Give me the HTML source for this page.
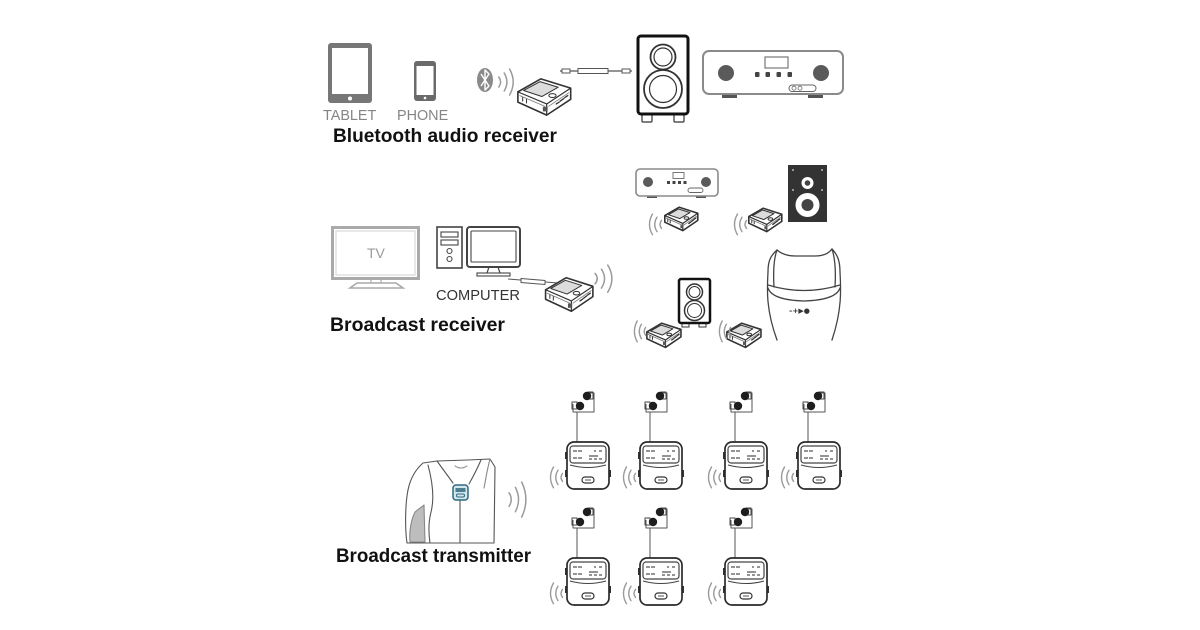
<!DOCTYPE html>
<html><head><meta charset="utf-8">
<style>
html,body{margin:0;padding:0;background:#fff;}
svg{display:block;}
</style></head>
<body>
<svg width="1200" height="630" viewBox="0 0 1200 630" xmlns="http://www.w3.org/2000/svg">
<defs>
  <g id="waveR" fill="none" stroke="#9a9a9a" stroke-width="1.5" stroke-linecap="round">
    <path d="M2,8 Q6,13 2,18" vector-effect="non-scaling-stroke"/>
    <path d="M8,4 Q14,13 8,22" vector-effect="non-scaling-stroke"/>
    <path d="M14,0 Q22,13 14,26" vector-effect="non-scaling-stroke"/>
  </g>
  <g id="waveL" fill="none" stroke="#9a9a9a" stroke-width="1.4" stroke-linecap="round">
    <path d="M18,8 Q14,13 18,18" vector-effect="non-scaling-stroke"/>
    <path d="M12,4 Q6,13 12,22" vector-effect="non-scaling-stroke"/>
    <path d="M6,0 Q-2,13 6,26" vector-effect="non-scaling-stroke"/>
  </g>
  <g id="recv" stroke="#333" stroke-linejoin="round" stroke-linecap="round">
    <path d="M3,16 L27,2 L58,12 L58,24 L33,41 L3,27 Z" fill="#fff" stroke-width="1.6" vector-effect="non-scaling-stroke"/>
    <path d="M3,16 L33,29 L58,12 M33,29 L33,41" fill="none" stroke-width="1.2" vector-effect="non-scaling-stroke"/>
    <path d="M5,20 L31,31.5 M35,31.5 L56,17" fill="none" stroke="#777" stroke-width="0.8" vector-effect="non-scaling-stroke"/>
    <path d="M9,14.5 L26,5 L45,11 L28,21 Z" fill="#dcdcdc" stroke-width="1" vector-effect="non-scaling-stroke"/>
    <ellipse cx="39" cy="20" rx="3.8" ry="2.1" fill="#fff" stroke-width="1" vector-effect="non-scaling-stroke"/>
    <rect x="29" y="32" width="5" height="5" fill="#555" stroke="none"/>
    <path d="M47,26 L51,23 M43,29 L46,27 M52,22 L55,20" fill="none" stroke-width="1.3" vector-effect="non-scaling-stroke"/>
    <path d="M8,22 L8,26 M12,24 L12,28" fill="none" stroke-width="1" vector-effect="non-scaling-stroke"/>
  </g>
  <g id="bud" stroke-linejoin="round">
    <path d="M10,0 L10,-30 L27,-30 L27,-49 L21,-49 M10,-30 L6,-30 L6,-38" stroke="#555" fill="none" stroke-width="1"/>
    <rect x="5" y="-40" width="5" height="7" fill="none" stroke="#444" stroke-width="1"/>
    <rect x="21" y="-50" width="5" height="7" fill="none" stroke="#444" stroke-width="1"/>
    <circle cx="13" cy="-36" r="4.2" fill="#1e1e1e"/>
    <circle cx="20" cy="-46" r="4.2" fill="#1e1e1e"/>
    <rect x="-2" y="10" width="3" height="7" fill="#333"/>
    <rect x="-2" y="28" width="3" height="7" fill="#333"/>
    <rect x="41" y="28" width="3" height="7" fill="#333"/>
    <rect x="0" y="0" width="42" height="47" rx="7" fill="#fff" stroke="#2a2a2a" stroke-width="1.7"/>
    <rect x="3" y="4" width="36" height="17" rx="3" fill="#fff" stroke="#444" stroke-width="1.2"/>
    <path d="M6,9 h4 M11,9 h4 M27,9 h2 M32,9 h3 M6,16 h4 M11,16 h4 M22,14 h9 M22,17 h3 M27,17 h3 M32,17 h3" stroke="#555" stroke-width="1.2"/>
    <path d="M3,23 Q21,28 39,23" fill="none" stroke="#444" stroke-width="1.1"/>
    <rect x="15" y="35" width="12" height="6" rx="3" fill="#fff" stroke="#333" stroke-width="1.2"/>
    <path d="M18,38 h6" stroke="#555" stroke-width="1"/>
  </g>
</defs>

<rect width="1200" height="630" fill="#fff"/>

<!-- ============ SECTION 1 ============ -->
<rect x="328" y="43" width="44" height="60" rx="3" fill="#777"/>
<rect x="332" y="48" width="36" height="46" fill="#fff"/>
<circle cx="350" cy="98.5" r="2" fill="#fff"/>
<rect x="414" y="61" width="22" height="40" rx="3" fill="#6a6a6a"/>
<rect x="416.5" y="66" width="17" height="29" fill="#fff"/>
<circle cx="425" cy="98" r="1.3" fill="#fff"/>
<text x="323" y="120" font-family="Liberation Sans, sans-serif" font-size="14.4" fill="#858585">TABLET</text>
<text x="397" y="120" font-family="Liberation Sans, sans-serif" font-size="14.4" fill="#858585">PHONE</text>
<text x="333" y="142" font-family="Liberation Sans, sans-serif" font-size="19" font-weight="bold" fill="#111" textLength="224" lengthAdjust="spacingAndGlyphs">Bluetooth audio receiver</text>

<ellipse cx="485" cy="80" rx="8" ry="12" fill="#8a8a8a"/>
<path d="M481,74 L489,86 L485,90 L485,70 L489,74 L481,86" fill="none" stroke="#fff" stroke-width="1.4" stroke-linejoin="round"/>
<use href="#waveR" transform="translate(497,69) scale(0.9,1)"/>

<use href="#recv" transform="translate(515,77) scale(0.96,0.93)"/>

<line x1="560" y1="71" x2="632" y2="71" stroke="#555" stroke-width="1.2"/>
<rect x="562" y="69" width="8" height="4" fill="#fff" stroke="#555" stroke-width="1"/>
<rect x="578" y="68.5" width="30" height="5" fill="#fff" stroke="#555" stroke-width="1"/>
<rect x="622" y="69" width="8" height="4" fill="#fff" stroke="#555" stroke-width="1"/>

<rect x="642" y="114" width="10" height="8" rx="1" fill="#fff" stroke="#333" stroke-width="1.2"/>
<rect x="674" y="114" width="10" height="8" rx="1" fill="#fff" stroke="#333" stroke-width="1.2"/>
<rect x="638" y="36" width="50" height="78" rx="3" fill="#fff" stroke="#111" stroke-width="3"/>
<circle cx="663" cy="57" r="12.5" fill="#fff" stroke="#333" stroke-width="1.8"/>
<circle cx="663" cy="57" r="9" fill="#fff" stroke="#333" stroke-width="1.2"/>
<circle cx="663" cy="89" r="19" fill="#fff" stroke="#333" stroke-width="1.8"/>
<circle cx="663" cy="89" r="13.5" fill="#fff" stroke="#333" stroke-width="1.2"/>

<rect x="722" y="93" width="15" height="5" fill="#555"/>
<rect x="808" y="93" width="15" height="5" fill="#555"/>
<rect x="703" y="51" width="140" height="43" rx="6" fill="#fff" stroke="#8a8a8a" stroke-width="2"/>
<circle cx="726" cy="73" r="8" fill="#5a5a5a"/>
<circle cx="821" cy="73" r="8" fill="#5a5a5a"/>
<rect x="765" y="57" width="23" height="11" fill="#fff" stroke="#777" stroke-width="1.2"/>
<rect x="755" y="72" width="4.5" height="5" rx="1" fill="#444"/>
<rect x="765.5" y="72" width="4.5" height="5" rx="1" fill="#444"/>
<rect x="776.5" y="72" width="4.5" height="5" rx="1" fill="#444"/>
<rect x="787.5" y="72" width="4.5" height="5" rx="1" fill="#444"/>
<rect x="789" y="85" width="27" height="6.5" rx="3.2" fill="#fff" stroke="#666" stroke-width="1"/>
<circle cx="794" cy="88.2" r="2" fill="none" stroke="#666" stroke-width="0.8"/>
<circle cx="800" cy="88.2" r="2" fill="none" stroke="#666" stroke-width="0.8"/>

<!-- ============ SECTION 2 ============ -->
<rect x="332.5" y="227.5" width="86" height="51" fill="#fff" stroke="#aaa" stroke-width="3"/>
<rect x="336" y="231" width="79" height="44" fill="none" stroke="#d0d0d0" stroke-width="1"/>
<rect x="371" y="279" width="10" height="4" fill="none" stroke="#aaa" stroke-width="1.2"/>
<path d="M357,283 L396,283 L403,288 L350,288 Z" fill="#fff" stroke="#aaa" stroke-width="1.6"/>
<text x="367" y="258" font-family="Liberation Sans, sans-serif" font-size="14" fill="#9a9a9a">TV</text>

<rect x="437" y="227" width="25" height="41" fill="#fff" stroke="#444" stroke-width="1.6"/>
<rect x="441" y="232" width="17" height="5" fill="none" stroke="#444" stroke-width="1.1"/>
<rect x="441" y="240" width="17" height="5" fill="none" stroke="#444" stroke-width="1.1"/>
<circle cx="449.5" cy="251" r="2.5" fill="none" stroke="#444" stroke-width="1.1"/>
<circle cx="449.5" cy="259" r="2.5" fill="none" stroke="#444" stroke-width="1.1"/>
<rect x="467" y="227" width="53" height="40" rx="3" fill="#fff" stroke="#444" stroke-width="2"/>
<rect x="471" y="231" width="45" height="31" rx="1" fill="none" stroke="#444" stroke-width="1.1"/>
<path d="M489,267 L487,273 M498,267 L500,273" stroke="#444" stroke-width="1.2" fill="none"/>
<rect x="477" y="273" width="33" height="3" fill="#fff" stroke="#444" stroke-width="1.1"/>
<text x="436" y="300" font-family="Liberation Sans, sans-serif" font-size="15" fill="#333" textLength="84" lengthAdjust="spacingAndGlyphs">COMPUTER</text>

<line x1="508" y1="279" x2="558" y2="283" stroke="#555" stroke-width="1.1"/>
<path d="M521,278.5 L545,280.5 L545,284.5 L521,282.5 Z" fill="#fff" stroke="#555" stroke-width="1"/>

<use href="#recv" transform="translate(543,276) scale(0.86,0.86)"/>
<use href="#waveR" transform="translate(593,265) scale(1.05,1.05)"/>

<rect x="647" y="195" width="10" height="3" fill="#555"/>
<rect x="696" y="195" width="10" height="3" fill="#555"/>
<rect x="636" y="169" width="82" height="27" rx="4" fill="#fff" stroke="#8a8a8a" stroke-width="1.6"/>
<circle cx="648" cy="182" r="5" fill="#5a5a5a"/>
<circle cx="706" cy="182" r="5" fill="#5a5a5a"/>
<rect x="673" y="172.5" width="11" height="6" fill="none" stroke="#777" stroke-width="1"/>
<rect x="667" y="181" width="3" height="3" fill="#444"/>
<rect x="672.5" y="181" width="3" height="3" fill="#444"/>
<rect x="678" y="181" width="3" height="3" fill="#444"/>
<rect x="683.5" y="181" width="3" height="3" fill="#444"/>
<rect x="688" y="188" width="15" height="4.5" rx="2.2" fill="none" stroke="#666" stroke-width="0.9"/>

<rect x="788" y="165" width="39" height="57" fill="#333"/>
<circle cx="807.5" cy="183" r="6" fill="#fff"/>
<circle cx="807.5" cy="183" r="2.8" fill="#444"/>
<circle cx="807.5" cy="205" r="12" fill="#fff"/>
<circle cx="807.5" cy="205" r="6" fill="#444"/>
<circle cx="793" cy="170" r="1" fill="#bbb"/>
<circle cx="822" cy="170" r="1" fill="#bbb"/>
<circle cx="793" cy="190" r="1" fill="#bbb"/>
<circle cx="822" cy="190" r="1" fill="#bbb"/>

<use href="#recv" transform="translate(663,206) scale(0.6)"/>
<use href="#waveL" transform="translate(648,214) scale(0.75,0.8)"/>
<use href="#recv" transform="translate(747,207) scale(0.6)"/>
<use href="#waveL" transform="translate(733,214) scale(0.75,0.8)"/>

<rect x="682" y="322" width="7" height="5" fill="#fff" stroke="#333" stroke-width="1"/>
<rect x="699" y="322" width="7" height="5" fill="#fff" stroke="#333" stroke-width="1"/>
<rect x="679" y="279" width="31" height="44" rx="2" fill="#fff" stroke="#111" stroke-width="2.5"/>
<circle cx="694.5" cy="292" r="8" fill="#fff" stroke="#333" stroke-width="1.5"/>
<circle cx="694.5" cy="292" r="5.5" fill="#fff" stroke="#333" stroke-width="1"/>
<circle cx="694.5" cy="310.5" r="10" fill="#fff" stroke="#333" stroke-width="1.5"/>
<circle cx="694.5" cy="310.5" r="7" fill="#fff" stroke="#333" stroke-width="1"/>

<use href="#recv" transform="translate(645,322) scale(0.62)"/>
<use href="#waveL" transform="translate(633,321) scale(0.7,0.8)"/>
<use href="#recv" transform="translate(725,322) scale(0.62)"/>
<use href="#waveL" transform="translate(718,321) scale(0.7,0.8)"/>

<g fill="none" stroke="#444" stroke-width="1.3" stroke-linecap="round">
  <path d="M777,250 C770,256 768,262 768,272 C767,290 766,310 777,340"/>
  <path d="M832,249 C838,255 840,262 840,272 C841,290 842,310 832,340"/>
  <path d="M777,250 Q784,256 795,256 L815,256 Q827,256 832,249"/>
  <path d="M777,250 C774,258 773,270 774,287"/>
  <path d="M832,249 C835,258 836,270 835,287"/>
  <path d="M768,285 Q804,296 840,285"/>
  <path d="M768,288 Q772,300 804,301 Q836,300 840,288"/>
</g>
<text x="789" y="313" font-family="DejaVu Sans, sans-serif" font-size="7" font-weight="bold" fill="#333">–+▶●</text>

<text x="330" y="331" font-family="Liberation Sans, sans-serif" font-size="19" font-weight="bold" fill="#111" textLength="175" lengthAdjust="spacingAndGlyphs">Broadcast receiver</text>

<!-- ============ SECTION 3 ============ -->
<g stroke="#555" stroke-width="1.1" fill="none" stroke-linejoin="round" stroke-linecap="round">
  <path d="M423,463 L437,461 L468,460 L490,459 L495,467 L494,543 L407,543 C405,530 405,505 408,490 C410,480 415,470 423,463 Z" fill="#fff"/>
  <path d="M424,505 L425,542 L410,542 C409,532 411,520 415,512 Z" fill="#bdbdbd" stroke="#888"/>
  <path d="M428,465 C432,480 435,497 431,512 C429,520 428,530 430,543"/>
  <path d="M437,461 C442,468 448,476 453,483"/>
  <path d="M481,460 C478,467 474,475 469,484"/>
  <path d="M460,500 L460,543"/>
  <path d="M455,466 Q461,470 467,466" stroke="#999"/>
  <path d="M490,459 C487,470 486,478 484,488" stroke="#888"/>
</g>
<rect x="453" y="485" width="15" height="15" rx="3" fill="#d4e6ec" stroke="#2d6a80" stroke-width="1.5"/>
<rect x="455.5" y="488" width="10" height="4" fill="#4a7f92"/>
<rect x="456.5" y="494" width="8" height="3" rx="1.5" fill="none" stroke="#2d6a80" stroke-width="1"/>
<use href="#waveR" transform="translate(507,482) scale(1.05,1.35)"/>

<text x="336" y="562" font-family="Liberation Sans, sans-serif" font-size="19" font-weight="bold" fill="#111" textLength="195" lengthAdjust="spacingAndGlyphs">Broadcast transmitter</text>

<use href="#bud" transform="translate(567,442)"/>
<use href="#waveL" transform="translate(549,467) scale(0.75,0.8)"/>
<use href="#bud" transform="translate(640,442)"/>
<use href="#waveL" transform="translate(622,467) scale(0.75,0.8)"/>
<use href="#bud" transform="translate(725,442)"/>
<use href="#waveL" transform="translate(707,467) scale(0.75,0.8)"/>
<use href="#bud" transform="translate(798,442)"/>
<use href="#waveL" transform="translate(780,467) scale(0.75,0.8)"/>

<use href="#bud" transform="translate(567,558)"/>
<use href="#waveL" transform="translate(549,583) scale(0.75,0.8)"/>
<use href="#bud" transform="translate(640,558)"/>
<use href="#waveL" transform="translate(622,583) scale(0.75,0.8)"/>
<use href="#bud" transform="translate(725,558)"/>
<use href="#waveL" transform="translate(707,583) scale(0.75,0.8)"/>
</svg>
</body></html>
